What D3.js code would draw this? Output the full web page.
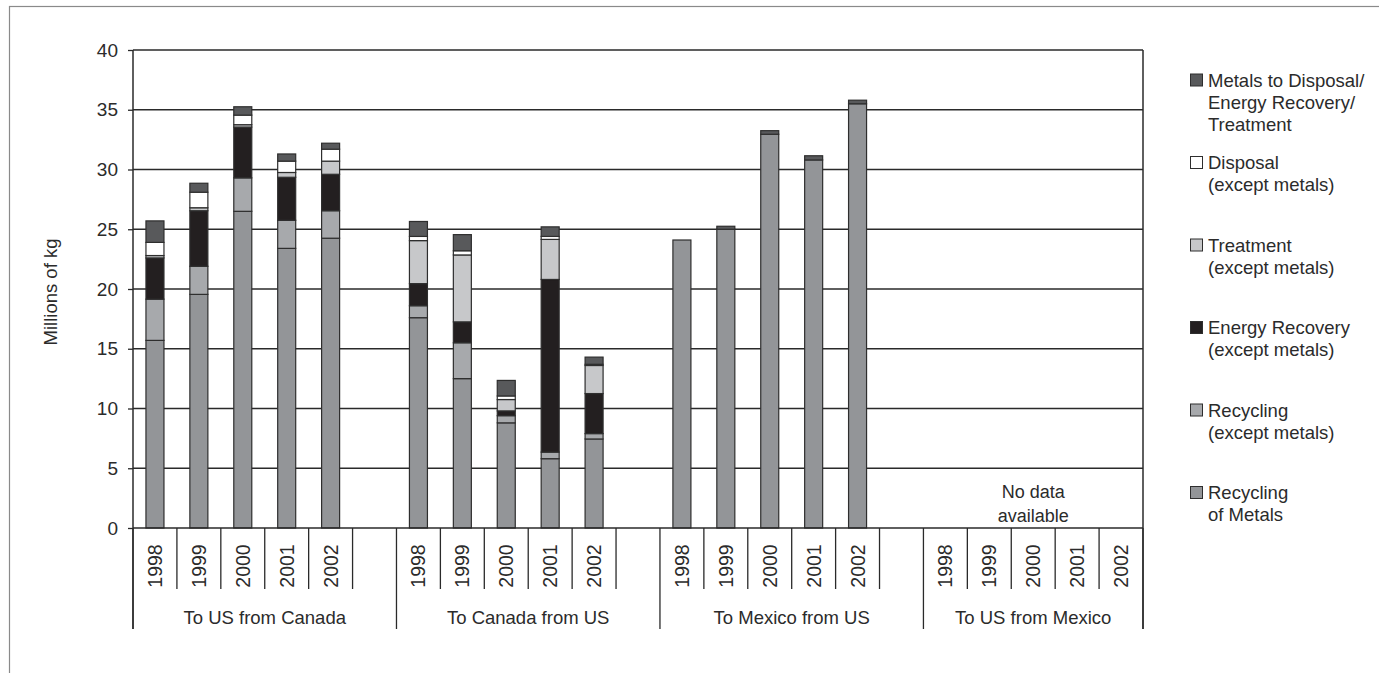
<!DOCTYPE html>
<html>
<head>
<meta charset="utf-8">
<script src="https://cdn.jsdelivr.net/npm/d3@7"></script>
<style>
  html, body { margin: 0; padding: 0; background: #fff; }
  svg { display: block; }
  text { font-family: "Liberation Sans", Arial, sans-serif; fill: #2b2b2b; }
</style>
</head>
<body>
<svg id="chart" width="1379" height="673"></svg>
<script>
// Transboundary shipments of hazardous waste, millions of kg
const groups = ["To US from Canada", "To Canada from US", "To Mexico from US", "To US from Mexico"];
const years = ["1998", "1999", "2000", "2001", "2002"];
const yTicks = [0, 5, 10, 15, 20, 25, 30, 35, 40];

// One value per group/year, in group order (null = no data reported)
const recyclingMetals   = [15.7, 19.55, 26.5, 23.4, 24.25,  17.6, 12.5, 8.8, 5.8, 7.45,  24.1, 25.0, 32.95, 30.8, 35.5,  null, null, null, null, null];
const recyclingOther    = [3.45, 2.35, 2.8, 2.35, 2.3,      1.0, 3.0, 0.6, 0.55, 0.45,   0, 0, 0, 0, 0,               null, null, null, null, null];
const energyRecovery    = [3.45, 4.65, 4.25, 3.6, 3.05,     1.85, 1.75, 0.4, 14.45, 3.35, 0, 0, 0, 0, 0,              null, null, null, null, null];
const treatment         = [0.2, 0.25, 0.2, 0.4, 1.1,        3.6, 5.6, 0.95, 3.35, 2.35,  0, 0, 0, 0, 0,               null, null, null, null, null];
const disposal          = [1.1, 1.3, 0.8, 0.95, 1.0,        0.35, 0.35, 0.3, 0.25, 0.1,  0, 0, 0, 0, 0,               null, null, null, null, null];
const metalsToDisposal  = [1.8, 0.75, 0.7, 0.6, 0.5,        1.25, 1.35, 1.3, 0.8, 0.6,   0, 0.25, 0.3, 0.35, 0.3,     null, null, null, null, null];

const seriesKeys = ["recyclingMetals", "recyclingOther", "energyRecovery", "treatment", "disposal", "metalsToDisposal"];
const seriesValues = { recyclingMetals, recyclingOther, energyRecovery, treatment, disposal, metalsToDisposal };
const seriesLabels = {
  metalsToDisposal: ["Metals to Disposal/", "Energy Recovery/", "Treatment"],
  disposal: ["Disposal", "(except metals)"],
  treatment: ["Treatment", "(except metals)"],
  energyRecovery: ["Energy Recovery", "(except metals)"],
  recyclingOther: ["Recycling", "(except metals)"],
  recyclingMetals: ["Recycling", "of Metals"]
};
const seriesColors = {
  recyclingMetals: "#939598",
  recyclingOther: "#a7a9ac",
  energyRecovery: "#231f20",
  treatment: "#c7c8ca",
  disposal: "#ffffff",
  metalsToDisposal: "#58595b"
};

// Rows for stacking
const rows = [];
groups.forEach((g, gi) => years.forEach((yr, yi) => {
  const i = gi * years.length + yi;
  const row = { group: g, year: yr, slot: g + "|" + yr, hasData: recyclingMetals[i] !== null };
  seriesKeys.forEach(k => row[k] = seriesValues[k][i] || 0);
  rows.push(row);
}));

// Category slots: five years per group, with a spacer between groups
const slots = [];
groups.forEach((g, gi) => {
  years.forEach(yr => slots.push(g + "|" + yr));
  if (gi < groups.length - 1) slots.push(g + "|gap");
});

const svg = d3.select("#chart");
const plotLeft = 133, plotRight = 1143, plotTop = 50, plotBottom = 528;
const yearTickEnd = 589, groupTickEnd = 629;

const x = d3.scaleBand().domain(slots).range([plotLeft, plotRight]).padding(0);
const y = d3.scaleLinear().domain([0, 40]).range([plotBottom, plotTop]);
const barW = x.bandwidth() * 0.41;

// Outer frame
svg.append("rect")
  .attr("x", 9.5).attr("y", 6.5).attr("width", 1420).attr("height", 720)
  .attr("fill", "none").attr("stroke", "#8a8a8a").attr("stroke-width", 1.2);

// Horizontal grid lines
svg.append("g").selectAll("line").data(yTicks.filter(t => t > 0)).join("line")
  .attr("x1", plotLeft).attr("x2", plotRight)
  .attr("y1", d => y(d)).attr("y2", d => y(d))
  .attr("stroke", "#2a2a2a").attr("stroke-width", 1.3);

// Y axis
const yAxis = svg.append("g").attr("transform", `translate(${plotLeft},0)`)
  .call(d3.axisLeft(y).tickValues(yTicks).tickSize(5).tickPadding(10).tickFormat(d3.format("d")));
yAxis.select(".domain").remove();
yAxis.selectAll(".tick line").attr("stroke", "#2a2a2a").attr("stroke-width", 1.3);
yAxis.selectAll(".tick text").attr("font-size", 19).attr("fill", "#2b2b2b")
  .style("font-family", '"Liberation Sans", Arial, sans-serif');

svg.append("line").attr("x1", plotLeft).attr("x2", plotLeft).attr("y1", plotTop).attr("y2", groupTickEnd)
  .attr("stroke", "#2a2a2a").attr("stroke-width", 1.5);
svg.append("line").attr("x1", plotRight).attr("x2", plotRight).attr("y1", plotTop).attr("y2", groupTickEnd)
  .attr("stroke", "#2a2a2a").attr("stroke-width", 1.5);

svg.append("text")
  .attr("transform", `translate(50,${(plotTop + plotBottom) / 2 + 3}) rotate(-90)`)
  .attr("text-anchor", "middle").attr("dominant-baseline", "central")
  .attr("font-size", 18.5).text("Millions of kg");

// Stacked bars
const stacked = d3.stack().keys(seriesKeys)(rows.filter(r => r.hasData));
const barLayer = svg.append("g");
stacked.forEach(layer => {
  barLayer.append("g").attr("fill", seriesColors[layer.key])
    .selectAll("rect").data(layer.filter(d => d[1] - d[0] > 0)).join("rect")
    .attr("x", d => x(d.data.slot) + (x.bandwidth() - barW) / 2)
    .attr("width", barW)
    .attr("y", d => y(d[1]))
    .attr("height", d => y(d[0]) - y(d[1]))
    .attr("stroke", "#2e2e2e").attr("stroke-width", 1.2);
});

// X axis baseline
svg.append("line").attr("x1", plotLeft).attr("x2", plotRight).attr("y1", plotBottom).attr("y2", plotBottom)
  .attr("stroke", "#2a2a2a").attr("stroke-width", 1.5);

// Slot boundary ticks
const boundaries = slots.map(s => x(s)).concat([plotRight]);
const groupBounds = new Set();
groups.forEach(g => groupBounds.add(x(g + "|" + years[0])));
groupBounds.add(plotRight);
svg.append("g").selectAll("line").data(boundaries).join("line")
  .attr("x1", d => d).attr("x2", d => d)
  .attr("y1", plotBottom).attr("y2", d => groupBounds.has(d) ? groupTickEnd : yearTickEnd)
  .attr("stroke", "#2a2a2a").attr("stroke-width", 1.3);

// Year labels
svg.append("g").selectAll("text").data(rows).join("text")
  .attr("transform", d => `translate(${x(d.slot) + x.bandwidth() / 2},${566}) rotate(-90)`)
  .attr("text-anchor", "middle").attr("dominant-baseline", "central")
  .attr("font-size", 19.5).text(d => d.year);

// Group labels
svg.append("g").selectAll("text").data(groups).join("text")
  .attr("x", (g, i) => {
    const start = x(g + "|" + years[0]);
    const end = i < groups.length - 1 ? x(groups[i + 1] + "|" + years[0]) : plotRight;
    return (start + end) / 2;
  })
  .attr("y", 617).attr("text-anchor", "middle").attr("dominant-baseline", "central")
  .attr("font-size", 18.5).text(d => d);

// Note for the group without data
const lastGroup = groups[groups.length - 1];
const noDataX = (x(lastGroup + "|" + years[0]) + plotRight) / 2;
svg.append("text").attr("x", noDataX).attr("y", 492).attr("text-anchor", "middle")
  .attr("dominant-baseline", "central").attr("font-size", 18).text("No data");
svg.append("text").attr("x", noDataX).attr("y", 516).attr("text-anchor", "middle")
  .attr("dominant-baseline", "central").attr("font-size", 18).text("available");

// Legend (top of stack first)
const legendKeys = seriesKeys.slice().reverse();
const legend = svg.append("g");
legendKeys.forEach((k, i) => {
  const ly = 80 + i * 82.5;
  const item = legend.append("g");
  item.append("rect").attr("x", 1190.5).attr("y", ly - 6).attr("width", 12).attr("height", 12)
    .attr("fill", seriesColors[k]).attr("stroke", "#2e2e2e").attr("stroke-width", 1);
  seriesLabels[k].forEach((line, j) => {
    item.append("text").attr("x", 1208).attr("y", ly + j * 22)
      .attr("dominant-baseline", "central").attr("font-size", 18.5).text(line);
  });
});
</script>
</body>
</html>
